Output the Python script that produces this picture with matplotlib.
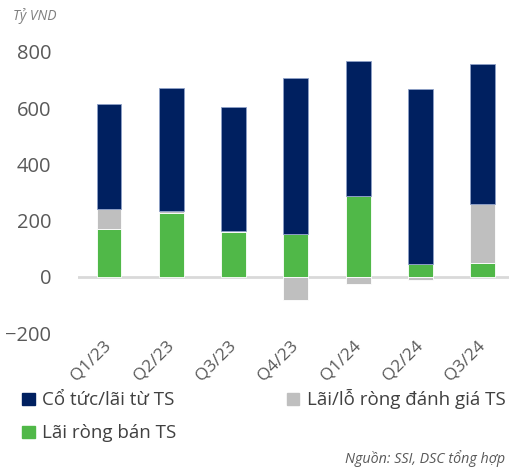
import matplotlib.pyplot as plt
import numpy as np
from matplotlib.patches import Patch

plt.rcParams['font.family'] = ['Open Sans', 'DejaVu Sans']

# Du lieu (ty VND)
quarters = ["Q1/23", "Q2/23", "Q3/23", "Q4/23", "Q1/24", "Q2/24", "Q3/24"]
lai_ban = [170, 227, 160, 152, 288, 46, 50]
danh_gia = [72, 8, 3, -82, -25, -11, 209]
co_tuc = [373, 437, 441, 555, 480, 622, 498]

navy = "#002060"
grey = "#BFBFBF"
green = "#50B848"
txt = "#595959"

fig = plt.figure(figsize=(5.09, 4.68), dpi=100)
ax = fig.add_axes([0.153, 0.288, 0.847, 0.631])

x = np.arange(len(quarters))
g = np.array(lai_ban, dtype=float)
d = np.array(danh_gia, dtype=float)
c = np.array(co_tuc, dtype=float)
w = 0.4

ax.bar(x, g, w, color=green, edgecolor="white", linewidth=0.6, zorder=2)
d_bottom = np.where(d >= 0, g, 0)
ax.bar(x, d, w, bottom=d_bottom, color=grey, edgecolor="white", linewidth=0.6, zorder=2)
c_bottom = g + np.clip(d, 0, None)
ax.bar(x, c, w, bottom=c_bottom, color=navy, edgecolor="#8EA0C8", linewidth=0.6, zorder=2)

ax.axhline(0, color="#D9D9D9", linewidth=2, zorder=1)

ax.set_ylim(-200, 850)
ax.set_xlim(-0.5, 6.42)
ax.set_yticks([-200, 0, 200, 400, 600, 800])
ax.tick_params(axis="y", length=0, pad=19, labelsize=14.5, labelcolor=txt)
ax.set_xticks(x)
ax.set_xticklabels(quarters, rotation=45, ha="right", va="center",
                   rotation_mode="anchor", fontsize=12.5, color=txt)
ax.tick_params(axis="x", length=0, pad=7)
for s in ax.spines.values():
    s.set_visible(False)

fig.text(0.026, 0.965, "Tỷ VND", fontsize=10, style="italic", color="#7F7F7F",
         ha="left", va="center")

handles = [Patch(color=navy, label="Cổ tức/lãi từ TS"),
           Patch(color=green, label="Lãi ròng bán TS"),
           Patch(color=grey, label="Lãi/lỗ ròng đánh giá TS")]
leg = fig.legend(handles=handles, ncol=2, loc="upper left",
                 bbox_to_anchor=(0.044, 0.168), frameon=False, fontsize=13.5,
                 handlelength=0.65, handleheight=0.65, handletextpad=0.4,
                 columnspacing=5.9, labelspacing=0.8, borderaxespad=0,
                 borderpad=0)
for t in leg.get_texts():
    t.set_color("#404040")

fig.text(0.992, 0.021, "Nguồn: SSI, DSC tổng hợp", fontsize=10.3, style="italic",
         color="#595959", ha="right", va="center")

fig.savefig("out.png", dpi=100)
